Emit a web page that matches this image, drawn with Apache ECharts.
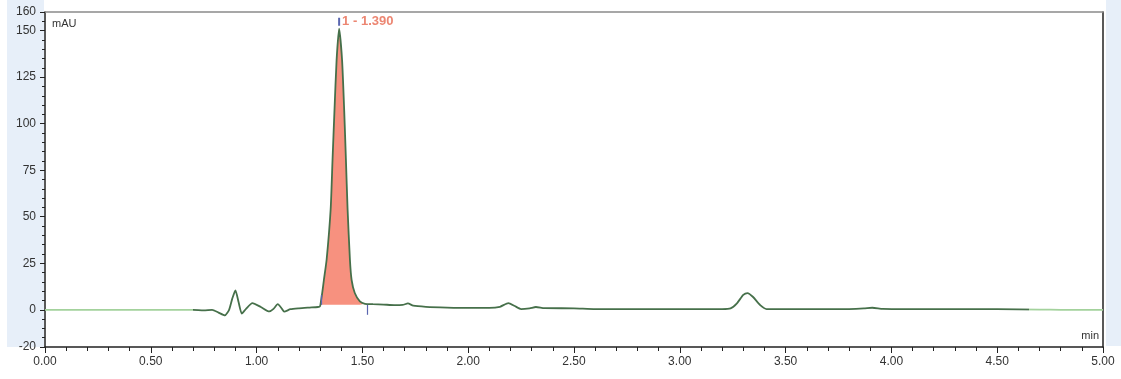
<!DOCTYPE html>
<html>
<head>
<meta charset="utf-8">
<script src="https://cdn.jsdelivr.net/npm/echarts@6/dist/echarts.min.js"></script>
<style>html,body{margin:0;padding:0;background:#fff;}#c{width:1121px;height:379px;}</style>
</head>
<body>
<div id="c"></div>
<script>
// retention time (min)
const times = [0.00,0.70,0.75,0.79,0.82,0.85,0.87,0.885,0.90,0.915,0.93,0.95,0.98,1.02,1.06,1.08,1.10,1.12,1.13,1.16,1.20,1.25,1.29,
  1.300,1.304,1.310,1.318,1.331,1.350,1.359,1.368,1.378,1.390,1.404,1.414,1.422,1.430,1.441,1.449,1.464,1.488,1.512,
  1.55,1.60,1.65,1.69,1.715,1.74,1.80,1.90,2.00,2.10,2.15,2.19,2.22,2.25,2.29,2.32,2.36,2.50,2.60,2.80,3.00,3.20,3.24,3.27,3.30,3.32,3.345,3.38,3.41,3.60,3.80,3.87,3.91,3.96,4.20,4.50,4.70,4.80,5.00];
// absorbance (mAU)
const signal = [0,0,-0.3,0,-1.5,-3,0,6,10.4,4,-2,0.5,3.6,1.5,-0.9,0.5,3,0.5,-1,0.3,0.8,1.2,1.5,
  2.0,4.5,9,16,27,54,81,107,134,151,134,107,81,54,27,16,9,4.5,3.2,
  3.0,2.8,2.5,2.6,3.4,2.2,1.6,1.2,1.0,1.0,1.6,3.6,2.0,0.4,0.8,1.5,0.9,0.8,0.4,0.4,0.3,0.4,0.8,3.5,8,9,7,2.5,0.4,0.3,0.4,0.7,1.1,0.5,0.3,0.3,0.1,0,0];
// integrated peak
const peakStart = 1.304, peakEnd = 1.512, peakBase = 2.7;
const peakApex = [1.390, 151];
const peakLabel = '1 - 1.390';
// axis ticks
const yLabelValues = [-20,0,25,50,75,100,125,150,160];
const yMin = -20, yMax = 160, xMin = 0, xMax = 5;

const trace = times.map((t,i)=>[t, signal[i]]);
const peakData = trace.filter(p => p[0] >= peakStart && p[0] <= peakEnd);

const chart = echarts.init(document.getElementById('c'), null, {renderer:'canvas'});
const gridL = 45, gridR = 18, gridT = 12, gridB = 32;
const ff = '"Liberation Sans", Arial, sans-serif';
chart.setOption({
  animation:false,
  backgroundColor:'#fff',
  graphic:[
    {type:'rect', left:7, top:0, shape:{width:37, height:347}, style:{fill:'#e7eff9'}, z:-10},
    {type:'rect', right:0, top:0, shape:{width:15, height:346}, style:{fill:'#e7eff9'}, z:-10},
    {type:'text', left:52, top:18, style:{text:'mAU', font:'11px ' + ff, fill:'#333'}},
    {type:'text', right:22, top:330, style:{text:'min', font:'11px ' + ff, fill:'#333'}}
  ],
  grid:{left:gridL, right:gridR, top:gridT, bottom:gridB, show:false},
  xAxis:[{
    type:'value', min:xMin, max:xMax, interval:0.5, position:'bottom',
    axisLine:{show:true, onZero:false, lineStyle:{color:'#222', width:1.5}},
    axisTick:{show:true, length:6, lineStyle:{color:'#222'}},
    minorTick:{show:true, splitNumber:5, length:4, lineStyle:{color:'#222'}},
    splitLine:{show:false},
    axisLabel:{formatter:v=>v.toFixed(2), color:'#333', fontSize:12, margin:9, fontFamily:ff}
  },{
    type:'value', min:xMin, max:xMax, position:'top',
    axisLine:{show:true, onZero:false, lineStyle:{color:'#8a8a8a', width:1.5}},
    axisTick:{show:false}, axisLabel:{show:false}, splitLine:{show:false}
  }],
  yAxis:[{
    type:'value', min:yMin, max:yMax, interval:5, position:'left',
    axisLine:{show:true, onZero:false, lineStyle:{color:'#222', width:1.5}},
    axisTick:{show:true, length:5, customValues:yLabelValues, lineStyle:{color:'#222'}},
    axisLabel:{customValues:yLabelValues, color:'#333', fontSize:12, margin:9, fontFamily:ff},
    splitLine:{show:false}
  },{
    type:'value', min:yMin, max:yMax, interval:5, position:'left', offset:0,
    axisLine:{show:false, onZero:false},
    axisTick:{show:true, length:3, lineStyle:{color:'#222'}},
    axisLabel:{show:false}, splitLine:{show:false}
  },{
    type:'value', min:yMin, max:yMax, position:'right',
    axisLine:{show:true, onZero:false, lineStyle:{color:'#222', width:1.5}},
    axisTick:{show:false}, axisLabel:{show:false}, splitLine:{show:false}
  }],
  visualMap:{
    show:false, type:'piecewise', dimension:0, seriesIndex:1,
    pieces:[
      {min:-1, max:0.70, color:'#a3d29c'},
      {min:0.70, max:4.65, color:'#46704a'},
      {min:4.65, max:6, color:'#a3d29c'}
    ]
  },
  series:[{
    type:'line', data:peakData, xAxisIndex:0, yAxisIndex:0, symbol:'none', smooth:0.2,
    lineStyle:{width:0},
    areaStyle:{color:'#f7917f', opacity:1, origin:peakBase},
    z:1,
    markPoint:{
      symbol:'rect', symbolSize:[2,8], symbolOffset:[0,-7],
      itemStyle:{color:'#5a66b0'},
      label:{show:true, position:'right', distance:2, formatter:peakLabel, color:'#ec8672', fontWeight:'bold', fontSize:13, fontFamily:ff},
      data:[{coord:peakApex}]
    },
    markLine:{
      symbol:'none', silent:true, label:{show:false},
      lineStyle:{color:'#5a66b0', type:'solid', width:1.2},
      data:[
        [{coord:[peakStart, peakBase]}, {coord:[peakStart, 8]}],
        [{coord:[peakEnd+0.01, peakBase]}, {coord:[peakEnd+0.01, -2.7]}]
      ]
    }
  },{
    type:'line', data:trace, xAxisIndex:0, yAxisIndex:0, symbol:'none', smooth:0.2,
    lineStyle:{width:1.8},
    z:3
  }]
});
</script>
</body>
</html>
